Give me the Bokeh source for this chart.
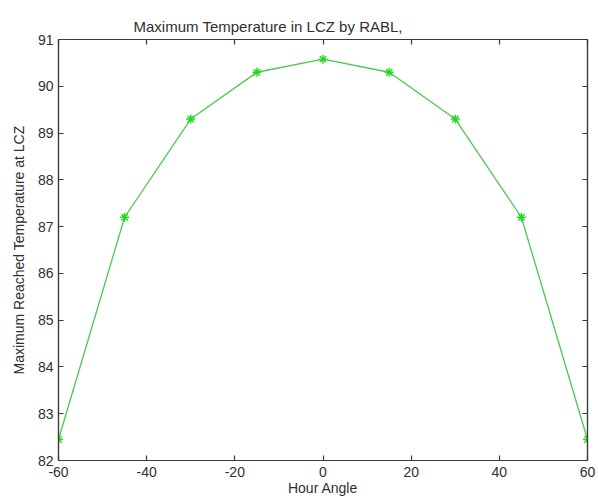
from bokeh.plotting import figure
from bokeh.models import LinearAxis, FixedTicker, Range1d, CustomJSTickFormatter
from bokeh.embed import file_html
from bokeh.resources import INLINE

# Hour angle (degrees) and maximum reached temperature at LCZ
hour_angle = [-60, -45, -30, -15, 0, 15, 30, 45, 60]
max_temp = [82.45, 87.2, 89.3, 90.3, 90.58, 90.3, 89.3, 87.2, 82.45]

x_ticks = [-60, -40, -20, 0, 20, 40, 60]
y_ticks = [82, 83, 84, 85, 86, 87, 88, 89, 90, 91]

FONT = "Liberation Sans"
TXT = "#303030"
AX = "#3a3a3a"

p = figure(width=598, height=502, output_backend="svg", toolbar_location=None,
           x_range=Range1d(-60, 60), y_range=Range1d(82, 91),
           min_border_left=58, min_border_right=11, min_border_top=39,
           min_border_bottom=42, background_fill_color="white",
           border_fill_color="white")

p.title.text = "Maximum Temperature in LCZ by RABL,"
p.title.align = "left"
p.title.offset = 75
p.title.text_font = FONT
p.title.text_font_size = "15px"
p.title.text_font_style = "normal"
p.title.text_color = TXT
p.title.standoff = 10

p.grid.visible = False
p.outline_line_color = AX
p.outline_line_width = 1.2

# plain hyphen-minus in tick labels
plain = CustomJSTickFormatter(code="return tick.toFixed(0);")
blank = CustomJSTickFormatter(code="return '';")


def style(ax, ticks, show_labels):
    ax.ticker = FixedTicker(ticks=ticks)
    ax.major_tick_in = 5
    ax.major_tick_out = 0
    ax.minor_tick_line_color = None
    ax.axis_line_color = AX
    ax.axis_line_width = 1.2
    ax.major_tick_line_color = AX
    ax.major_tick_line_width = 1.2
    ax.major_label_text_font = FONT
    ax.major_label_text_color = TXT
    ax.axis_label_text_font = FONT
    ax.axis_label_text_color = TXT
    ax.axis_label_text_font_style = "normal"
    ax.major_label_text_font_size = "14px"
    ax.axis_label_text_font_size = "14px"
    if show_labels:
        ax.formatter = plain
    else:
        ax.formatter = blank
        ax.major_label_standoff = 0


style(p.xaxis[0], x_ticks, True)
style(p.yaxis[0], y_ticks, True)
p.xaxis[0].axis_label = "Hour Angle"
p.xaxis[0].major_label_standoff = 6
p.xaxis[0].axis_label_standoff = 0
p.yaxis[0].axis_label = "Maximum Reached Temperature at LCZ"
p.yaxis[0].major_label_standoff = 5
p.yaxis[0].axis_label_standoff = 8

top = LinearAxis()
style(top, x_ticks, False)
p.add_layout(top, "above")
right = LinearAxis()
style(right, y_ticks, False)
p.add_layout(right, "right")

p.line(hour_angle, max_temp, line_color="#4cc84c", line_width=1.3)
p.scatter(hour_angle, max_temp, marker="asterisk", size=9,
          line_color="#22d822", line_width=1.4)

open("out.html", "w").write(file_html(p, INLINE))
